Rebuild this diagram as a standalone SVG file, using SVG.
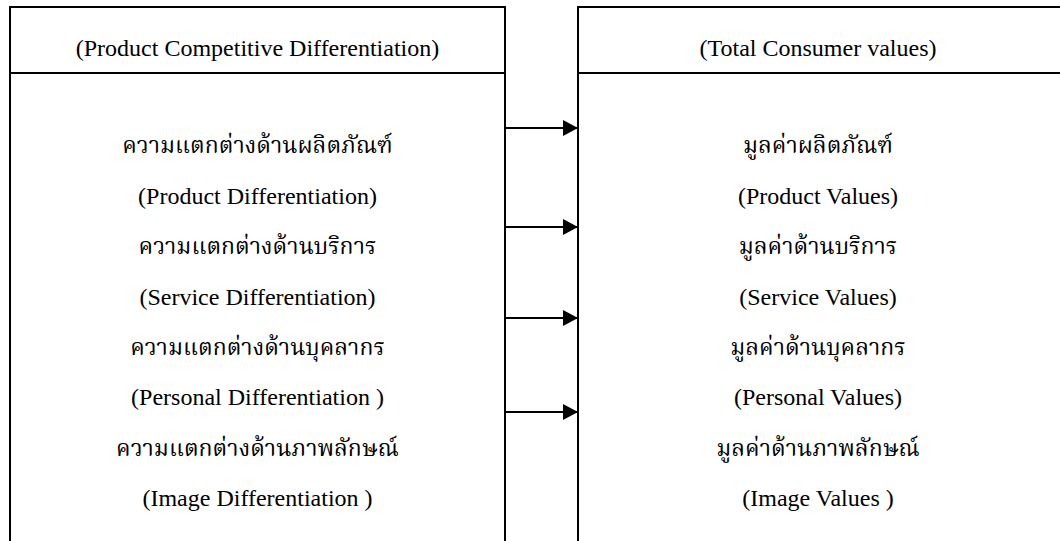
<svg xmlns="http://www.w3.org/2000/svg" width="1060" height="541" viewBox="0 0 1060 541">
<style>
.box{fill:#fff;stroke:#000;stroke-width:2}
.t{font-family:"Liberation Serif","Times New Roman",serif;font-size:24px;fill:#000;text-anchor:middle}
.th{font-family:"Liberation Serif","Noto Serif Thai","Noto Sans Thai",serif;font-size:23px;fill:#000;text-anchor:middle}
.conn{stroke:#000;stroke-width:2;fill:none}
</style>
<defs>
<marker id="ah" markerUnits="userSpaceOnUse" markerWidth="15" markerHeight="16" refX="15" refY="8" orient="auto">
<path d="M0,0 L15,8 L0,16 Z" fill="#000"/>
</marker>
</defs>
<rect width="1060" height="541" fill="#fff"/>
<g id="left">
<rect class="box" x="10" y="7" width="495" height="560"/>
<line class="conn" x1="10" y1="73" x2="505" y2="73"/>
<text class="t" x="257.5" y="56">(Product Competitive Differentiation)</text>
<text class="th" x="257.5" y="153">ความแตกต่างด้านผลิตภัณฑ์</text>
<text class="t" x="257.5" y="204">(Product Differentiation)</text>
<text class="th" x="257.5" y="254">ความแตกต่างด้านบริการ</text>
<text class="t" x="257.5" y="305">(Service Differentiation)</text>
<text class="th" x="257.5" y="355">ความแตกต่างด้านบุคลากร</text>
<text class="t" x="257.5" y="405">(Personal Differentiation )</text>
<text class="th" x="257.5" y="456">ความแตกต่างด้านภาพลักษณ์</text>
<text class="t" x="257.5" y="506">(Image Differentiation )</text>
</g>
<g id="right">
<rect class="box" x="578" y="7" width="490" height="560"/>
<line class="conn" x1="578" y1="73" x2="1062" y2="73"/>
<text class="t" x="818" y="56">(Total Consumer values)</text>
<text class="th" x="818" y="153">มูลค่าผลิตภัณฑ์</text>
<text class="t" x="818" y="204">(Product Values)</text>
<text class="th" x="818" y="254">มูลค่าด้านบริการ</text>
<text class="t" x="818" y="305">(Service Values)</text>
<text class="th" x="818" y="355">มูลค่าด้านบุคลากร</text>
<text class="t" x="818" y="405">(Personal Values)</text>
<text class="th" x="818" y="456">มูลค่าด้านภาพลักษณ์</text>
<text class="t" x="818" y="506">(Image Values )</text>
</g>
<g id="connectors">
<line class="conn" x1="505" y1="128" x2="578" y2="128" marker-end="url(#ah)"/>
<line class="conn" x1="505" y1="227" x2="578" y2="227" marker-end="url(#ah)"/>
<line class="conn" x1="505" y1="318" x2="578" y2="318" marker-end="url(#ah)"/>
<line class="conn" x1="505" y1="412" x2="578" y2="412" marker-end="url(#ah)"/>
</g>
</svg>
